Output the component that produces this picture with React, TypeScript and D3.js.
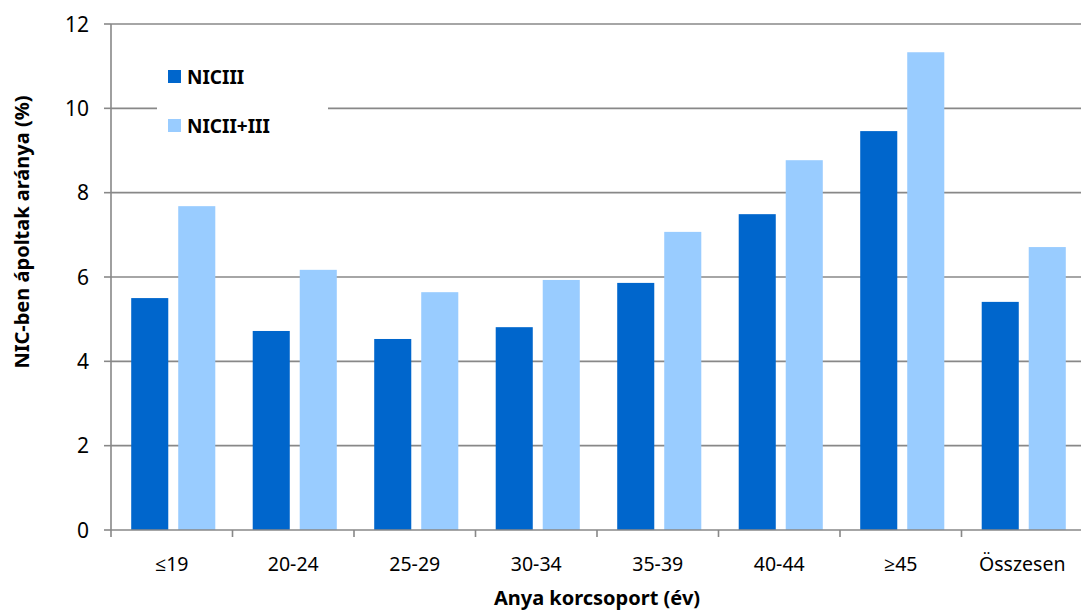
import React from "react";
import * as d3 from "d3";

const categories = ["≤19", "20-24", "25-29", "30-34", "35-39", "40-44", "≥45", "Összesen"];
const seriesNames = ["NICIII", "NICII+III"];
const nic3 = [5.5, 4.72, 4.53, 4.81, 5.86, 7.49, 9.46, 5.41];
const nic23 = [7.68, 6.17, 5.64, 5.93, 7.07, 8.77, 11.33, 6.71];
const yTicks = [0, 2, 4, 6, 8, 10, 12];
const colors = ["#0066CC", "#99CCFF"];

const W = 1081, H = 612;
const M = { left: 111, right: -2, top: 24, bottom: 82 };

export default function App() {
  const x = d3.scaleBand<string>().domain(categories).range([M.left, W - M.right]).paddingInner(0).paddingOuter(0);
  const y = d3.scaleLinear().domain([0, 12]).range([H - M.bottom, M.top]);
  const bw = x.bandwidth();
  const barW = bw * 0.305;
  const gap = bw * 0.082;
  const x0 = (bw - 2 * barW - gap) / 2 + 1.5;
  const font = "'Noto Sans', 'Open Sans', sans-serif";
  const grid = "#888888";
  return (
    <svg width={W} height={H} style={{ position: "absolute", left: 0, top: 0 }} fontFamily={font}>
      <rect width={W} height={H} fill="#fff" />
      {yTicks.map((t) => (
        <g key={t}>
          {t > 0 && <line x1={M.left} x2={W} y1={y(t)} y2={y(t)} stroke={grid} strokeWidth={1.6} />}
          <line x1={M.left - 7} x2={M.left} y1={y(t)} y2={y(t)} stroke={grid} strokeWidth={1.6} />
          <text x={89} y={y(t)} dy="0.36em" textAnchor="end" fontSize={21} fill="#000">{t}</text>
        </g>
      ))}
      {/* legend background covering gridline */}
      <rect x={157} y={52} width={171} height={96} fill="#fff" />
      {categories.map((c, i) => (
        <g key={c}>
          <rect x={(x(c) as number) + x0} y={y(nic3[i])} width={barW} height={y(0) - y(nic3[i])} fill={colors[0]} />
          <rect x={(x(c) as number) + x0 + barW + gap} y={y(nic23[i])} width={barW} height={y(0) - y(nic23[i])} fill={colors[1]} />
          <text x={(x(c) as number) + bw / 2} y={571} textAnchor="middle" fontSize={19.5} fill="#000">{c}</text>
        </g>
      ))}
      <line x1={M.left} x2={M.left} y1={M.top} y2={y(0)} stroke={grid} strokeWidth={1.6} />
      <line x1={M.left} x2={W} y1={y(0)} y2={y(0)} stroke={grid} strokeWidth={1.6} />
      {categories.map((c) => (
        <line key={c} x1={x(c) as number} x2={x(c) as number} y1={y(0)} y2={y(0) + 7} stroke={grid} strokeWidth={1.6} />
      ))}
      {seriesNames.map((s, i) => (
        <g key={s}>
          <rect x={168} y={70 + i * 49} width={13} height={13} fill={colors[i]} />
          <text x={187} y={77 + i * 49} dy="0.36em" fontSize={19} fontWeight="bold" fill="#000">{s}</text>
        </g>
      ))}
      <text transform={`translate(29, 232) rotate(-90)`} textAnchor="middle" fontSize={20} fontWeight="bold" fill="#000">NIC-ben ápoltak aránya (%)</text>
      <text x={597} y={605} textAnchor="middle" fontSize={20} fontWeight="bold" fill="#000">Anya korcsoport (év)</text>
    </svg>
  );
}
